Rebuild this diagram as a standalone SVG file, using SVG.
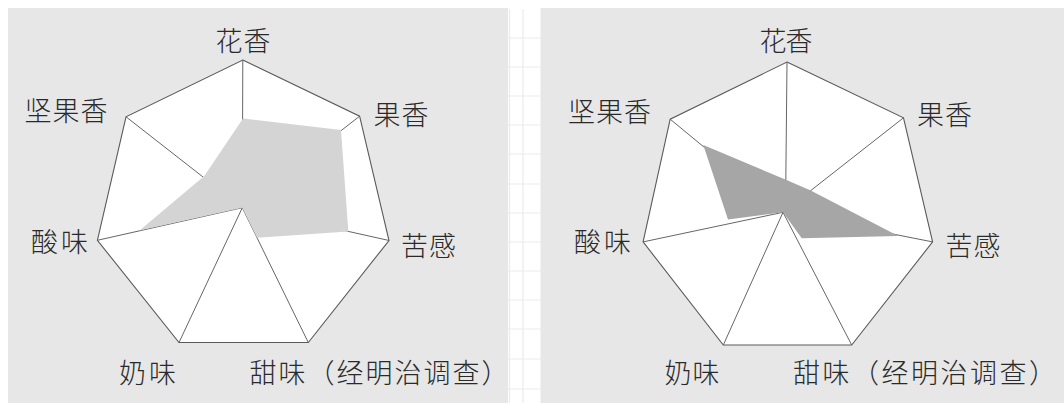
<svg xmlns="http://www.w3.org/2000/svg" width="1064" height="414" viewBox="0 0 1064 414">
  <style>
    .panel { fill: #e7e7e7; }
    .grid { stroke: #ebebeb; stroke-width: 1.2; fill: none; }
    .frame { fill: #ffffff; stroke: #5a5a5a; stroke-width: 1.1; stroke-linejoin: miter; }
    .spoke { stroke: #666666; stroke-width: 1; fill: none; }
    .light { fill: #d4d4d4; stroke: none; }
    .dark { fill: #a6a6a6; stroke: none; }
    .lbl { font-family: "Noto Sans CJK SC", "Noto Sans CJK JP", sans-serif; font-size: 27px; font-weight: 300; fill: #2a2a2a; letter-spacing: 1px; }
    .long { letter-spacing: 2px; }
  </style>
  <rect x="0" y="0" width="1064" height="414" fill="#ffffff"/>
  <g id="middle-grid">
    <line class="grid" x1="509.5" y1="9" x2="509.5" y2="403"/>
    <line class="grid" x1="523" y1="9" x2="523" y2="403"/>
    <path class="grid" d="M508 38H541M508 67H541M508 96H541M508 125H541M508 154H541M508 184H541M508 213H541M508 242H541M508 271H541M508 300H541M508 329H541M508 359H541M508 389H541"/>
  </g>

  <g id="left-chart">
    <rect class="panel" x="8" y="8" width="500" height="395"/>
    <polygon id="left-frame" class="frame" points="242.8,60 359.6,116.2 389,240.5 308.3,342.5 179,342.5 97.4,240.3 126,116.8"/>
    <g id="left-spokes">
      <line class="spoke" x1="242.3" y1="207.7" x2="242.8" y2="60"/>
      <line class="spoke" x1="242.3" y1="207.7" x2="359.6" y2="116.2"/>
      <line class="spoke" x1="242.3" y1="207.7" x2="389" y2="240.5"/>
      <line class="spoke" x1="242.3" y1="207.7" x2="308.3" y2="342.5"/>
      <line class="spoke" x1="242.3" y1="207.7" x2="179" y2="342.5"/>
      <line class="spoke" x1="242.3" y1="207.7" x2="97.4" y2="240.3"/>
      <line class="spoke" x1="242.3" y1="207.7" x2="126" y2="116.8"/>
    </g>
    <polygon id="left-data" class="light" points="243,118.5 341,130 348.3,231.5 257,237.8 242.3,207.7 139.5,230.6 204.3,176"/>
    <g id="left-labels">
      <text class="lbl" x="215.5" y="50.5">花香</text>
      <text class="lbl" x="373.5" y="125">果香</text>
      <text class="lbl" x="24.5" y="121">坚果香</text>
      <text class="lbl" x="31" y="252" style="letter-spacing:3px">酸味</text>
      <text class="lbl" x="401" y="256">苦感</text>
      <text class="lbl" x="119" y="383" style="letter-spacing:3px">奶味</text>
      <text class="lbl long" x="249.5" y="383">甜味（经明治调查）</text>
    </g>
  </g>

  <g id="right-chart">
    <rect class="panel" x="540.5" y="8" width="523.5" height="395"/>
    <polygon id="right-frame" class="frame" points="787,62 903.5,117.8 932.6,241.9 851.7,345 723.3,345 643.1,241.9 670.2,119.2"/>
    <g id="right-spokes">
      <line class="spoke" x1="785.5" y1="211" x2="787" y2="62"/>
      <line class="spoke" x1="783" y1="212.3" x2="903.5" y2="117.8"/>
      <line class="spoke" x1="783" y1="212.3" x2="932.6" y2="241.9"/>
      <line class="spoke" x1="783" y1="212.3" x2="851.7" y2="345"/>
      <line class="spoke" x1="783" y1="212.3" x2="723.3" y2="345"/>
      <line class="spoke" x1="783" y1="212.3" x2="643.1" y2="241.9"/>
      <line class="spoke" x1="783" y1="212.3" x2="670.2" y2="119.2"/>
    </g>
    <polygon id="right-data" class="dark" points="703.3,145 786.5,180 810.7,190.5 898.3,236 801.7,238.3 783,212.3 728,219.5"/>
    <g id="right-labels">
      <text class="lbl" x="759.5" y="50.5" style="letter-spacing:-1px">花香</text>
      <text class="lbl" x="917" y="125">果香</text>
      <text class="lbl" x="568" y="121.5">坚果香</text>
      <text class="lbl" x="574" y="252" style="letter-spacing:3px">酸味</text>
      <text class="lbl" x="945.5" y="256">苦感</text>
      <text class="lbl" x="664.5" y="383">奶味</text>
      <text class="lbl long" x="793" y="383" style="letter-spacing:2.5px">甜味（经明治调查）</text>
    </g>
  </g>
</svg>
